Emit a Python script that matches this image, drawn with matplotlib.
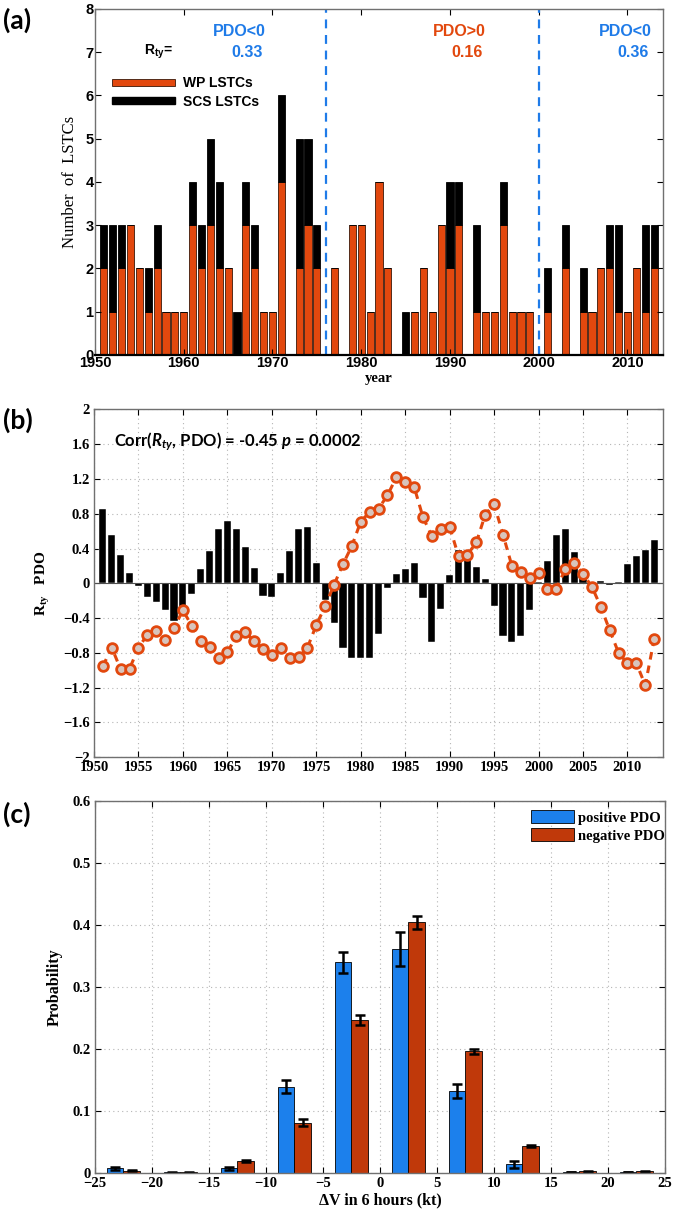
import numpy as np
import matplotlib
matplotlib.use('Agg')
import matplotlib.pyplot as plt
from matplotlib.patches import Patch
from matplotlib.ticker import FuncFormatter
from matplotlib.font_manager import FontProperties

plt.rcParams['font.family'] = 'Liberation Serif'
plt.rcParams['font.weight'] = 'bold'
plt.rcParams['axes.labelweight'] = 'bold'
plt.rcParams['mathtext.fontset'] = 'custom'
plt.rcParams['mathtext.it'] = 'Lato:italic:bold'
plt.rcParams['mathtext.rm'] = 'Lato:bold'
plt.rcParams['mathtext.bf'] = 'Lato:bold'

# ---- data ----
years = np.arange(1951, 2014)

# (a) number of landfalling storms per year
wp_lstc = [2, 1, 2, 3, 2, 1, 2, 1, 1, 1,
           3, 2, 3, 2, 2, 0, 3, 2, 1, 1,
           4, 0, 2, 3, 2, 0, 2, 0, 3, 3,
           1, 4, 2, 0, 0, 1, 2, 1, 3, 2,
           3, 0, 1, 1, 1, 3, 1, 1, 1, 0,
           1, 0, 2, 0, 1, 1, 2, 2, 1, 1,
           2, 1, 2]
scs_lstc = [1, 2, 1, 0, 0, 1, 1, 0, 0, 0,
            1, 1, 2, 2, 0, 1, 1, 1, 0, 0,
            2, 0, 3, 2, 1, 0, 0, 0, 0, 0,
            0, 0, 0, 0, 1, 0, 0, 0, 0, 2,
            1, 0, 2, 0, 0, 1, 0, 0, 0, 0,
            1, 0, 1, 0, 1, 0, 0, 1, 2, 0,
            0, 2, 1]
phase_breaks = [1976, 2000]
phase_names = ['PDO<0', 'PDO>0', 'PDO<0']
phase_rty = ['0.33', '0.16', '0.36']

# (b) R_ty anomaly and PDO index
rty = [0.85, 0.56, 0.32, 0.12, -0.03, -0.16, -0.22, -0.31, -0.43, -0.38,
       -0.12, 0.165, 0.37, 0.62, 0.72, 0.62, 0.42, 0.18, -0.15, -0.16,
       0.12, 0.37, 0.63, 0.65, 0.235, -0.19, -0.46, -0.74, -0.86, -0.86,
       -0.86, -0.58, -0.05, 0.11, 0.165, 0.235, -0.17, -0.68, -0.29, 0.09,
       0.38, 0.345, 0.19, 0.05, -0.26, -0.60, -0.68, -0.61, -0.31, 0.01,
       0.26, 0.56, 0.62, 0.36, 0.07, 0.0, 0.03, -0.015, 0.02, 0.22,
       0.31, 0.38, 0.50]
pdo = [-0.95, -0.74, -0.99, -0.98, -0.74, -0.59, -0.55, -0.65, -0.51, -0.31,
       -0.49, -0.66, -0.73, -0.86, -0.79, -0.61, -0.56, -0.66, -0.76, -0.82,
       -0.74, -0.86, -0.85, -0.74, -0.48, -0.26, -0.015, 0.22, 0.43, 0.71,
       0.82, 0.86, 1.01, 1.22, 1.16, 1.11, 0.76, 0.54, 0.62, 0.65,
       0.31, 0.33, 0.47, 0.79, 0.91, 0.56, 0.20, 0.13, 0.06, 0.12,
       -0.07, -0.06, 0.16, 0.23, 0.11, -0.04, -0.27, -0.54, -0.80, -0.92,
       -0.92, -1.17, -0.64]

# (c) probability of 6-hour intensity change
dv_bins = np.arange(-22.5, 23, 5)
prob_pos = [0.007, 0.0005, 0.007, 0.139, 0.340, 0.361, 0.132, 0.0135, 0.001, 0.001]
err_pos = [0.002, 0.0003, 0.003, 0.011, 0.017, 0.027, 0.012, 0.006, 0.0005, 0.0005]
prob_neg = [0.003, 0.0005, 0.019, 0.081, 0.246, 0.404, 0.196, 0.043, 0.002, 0.002]
err_neg = [0.001, 0.0003, 0.001, 0.005, 0.008, 0.010, 0.004, 0.001, 0.001, 0.001]

orange = '#E2480E'
blue = '#1F7BE8'
blue_c = '#1C80EC'
red_c = '#C0390A'
gridc = '#b5b5b5'

fig = plt.figure(figsize=(6.75, 12.14), dpi=100)
axa = fig.add_axes([0.1407, 0.7076, 0.8415, 0.2850])
axb = fig.add_axes([0.1393, 0.3762, 0.8430, 0.2866])
axc = fig.add_axes([0.1407, 0.0340, 0.8444, 0.3062])

for ax in (axa, axb, axc):
    ax.tick_params(direction='in', top=True, right=True, length=4, width=0.8, pad=2)
    for s in ax.spines.values():
        s.set_color('#707070')
        s.set_linewidth(1.0)

# ---- (a) ----
axa.bar(years, wp_lstc, width=0.8, color=orange, edgecolor='#3a1808', linewidth=0.6)
axa.bar(years, scs_lstc, width=0.8, bottom=wp_lstc, color='black', edgecolor='black', linewidth=0.6)
for xb in phase_breaks:
    axa.axvline(xb, color=blue, lw=1.6, dashes=(4, 3))
axa.set_xlim(1950, 2014)
axa.set_ylim(0, 8)
axa.set_xticks(np.arange(1950, 2011, 10))
axa.set_yticks(np.arange(0, 9, 1))
axa.tick_params(labelsize=10.5, labelfontfamily='Liberation Sans', pad=1)
axa.spines['bottom'].set_color('black')
axa.spines['bottom'].set_linewidth(1.6)
axa.set_xlabel('year', fontsize=10.5, labelpad=1)
axa.set_ylabel('Number  of  LSTCs', fontsize=12, fontweight='normal')
axa.yaxis.set_label_coords(-0.030, 0.5)

sans_b = dict(family='Liberation Sans', weight='bold')
phase_x = [1966.3, 1991.1, 2009.8]
phase_c = [blue, orange, blue]
for xn, name, val, c in zip(phase_x, phase_names, phase_rty, phase_c):
    axa.text(xn, 7.47, name, color=c, fontsize=11.5, ha='center', va='center', **sans_b)
    axa.text(xn + 0.8, 7.0, val, color=c, fontsize=11.5, ha='center', va='center', **sans_b)
axa.text(1957.2, 7.0, r'$\mathregular{R_{ty}}$=', fontsize=10, ha='center', va='center', **sans_b)

axa.legend([Patch(facecolor=orange, edgecolor='#3a1808', lw=0.6),
            Patch(facecolor='black', edgecolor='black')],
           ['WP LSTCs', 'SCS LSTCs'], loc='upper left', bbox_to_anchor=(0.030, 0.805),
           frameon=False, prop=FontProperties(family='Liberation Sans', weight='bold', size=10),
           handlelength=4.5, handleheight=0.45, handletextpad=0.6, labelspacing=0.3,
           borderaxespad=0, borderpad=0)

# ---- (b) ----
axb.set_axisbelow(True)
axb.grid(True, linestyle=(0, (1, 3)), color=gridc, lw=0.8)
axb.bar(years, rty, width=0.8, color='black', edgecolor='white', linewidth=0.3)
axb.axhline(0, color='#505050', lw=0.8)
axb.plot(years, pdo, color=orange, lw=2.2, dashes=(2.5, 2), marker='o', ms=7,
         mfc='#d8c4bc', mec=orange, mew=2)
axb.set_xlim(1950, 2014)
axb.set_ylim(-2, 2)
axb.set_xticks(np.arange(1950, 2011, 5))
axb.set_yticks(np.round(np.arange(-2, 2.01, 0.4), 1))
axb.yaxis.set_major_formatter(FuncFormatter(
    lambda v, p: '0' if abs(v) < 1e-9 else ('%g' % round(v, 1)).replace('-', '\u2212')))
axb.tick_params(labelsize=10.5, pad=3)
axb.set_ylabel(r'$\mathregular{R_{ty}}$   PDO', fontsize=11)
axb.yaxis.set_label_coords(-0.074, 0.5)
axb.text(1952.3, 1.63, r'Corr($R_{ty}$, PDO) = -0.45 $p$ = 0.0002', fontsize=12,
         family='Lato', weight='bold', va='center', ha='left')

# ---- (c) ----
w = 1.45
axc.set_axisbelow(True)
axc.grid(True, linestyle=(0, (1, 3)), color=gridc, lw=0.8)
ekw = dict(ecolor='black', elinewidth=1.8, capthick=1.8)
axc.bar(dv_bins - w / 2, prob_pos, width=w, color=blue_c, edgecolor='black', linewidth=0.6,
        yerr=err_pos, capsize=3.5, error_kw=ekw, label='positive PDO')
axc.bar(dv_bins + w / 2, prob_neg, width=w, color=red_c, edgecolor='black', linewidth=0.6,
        yerr=err_neg, capsize=3.5, error_kw=ekw, label='negative PDO')
axc.set_xlim(-25, 25)
axc.set_ylim(0, 0.6)
axc.set_xticks(np.arange(-25, 26, 5))
axc.set_yticks(np.round(np.arange(0, 0.61, 0.1), 1))
axc.yaxis.set_major_formatter(FuncFormatter(lambda v, p: '0' if abs(v) < 1e-9 else '%.1f' % v))
axc.tick_params(labelsize=10.5, pad=3)
axc.set_xlabel('\u0394V in 6 hours (kt)', fontsize=11.5, labelpad=2)
axc.set_ylabel('Probability', fontsize=11.5)
axc.yaxis.set_label_coords(-0.056, 0.5)
axc.legend(loc='upper right', bbox_to_anchor=(1.0, 0.975), frameon=False,
           prop=FontProperties(family='Liberation Serif', weight='bold', size=10.5),
           handlelength=2.9, handleheight=0.95, handletextpad=0.3, labelspacing=0.25,
           borderaxespad=0, borderpad=0)

for ax in (axa, axb, axc):
    for t in ax.get_xticklabels() + ax.get_yticklabels():
        t.set_fontweight('bold')

# panel letters
for lab, yp in (('(a)', 20), ('(b)', 420), ('(c)', 814)):
    fig.text(0.004, 1 - yp / 1214, lab, fontsize=19, family='Lato', weight='bold',
             ha='left', va='center')

fig.savefig('out.png', dpi=100)
